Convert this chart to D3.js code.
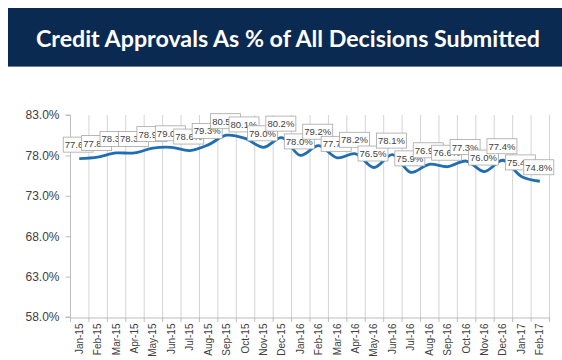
<!DOCTYPE html>
<html>
<head>
<meta charset="utf-8">
<script src="https://cdn.jsdelivr.net/npm/d3@7"></script>
<style>
  html, body { margin: 0; padding: 0; background: #ffffff; }
  svg { display: block; }
</style>
</head>
<body>
<div id="chart"></div>
<script>
const title = "Credit Approvals As % of All Decisions Submitted";
const categories = ["Jan-15","Feb-15","Mar-15","Apr-15","May-15","Jun-15","Jul-15","Aug-15","Sep-15","Oct-15","Nov-15","Dec-15",
  "Jan-16","Feb-16","Mar-16","Apr-16","May-16","Jun-16","Jul-16","Aug-16","Sep-16","Oct-16","Nov-16","Dec-16","Jan-17","Feb-17"];
const values = [77.6,77.8,78.3,78.3,78.9,79.0,78.6,79.3,80.5,80.1,79.0,80.2,
  78.0,79.2,77.7,78.2,76.5,78.1,75.9,76.9,76.6,77.3,76.0,77.4,75.4,74.8];
const yTicks = [58,63,68,73,78,83];

(function () {
const W = 562, H = 360;
const svg = d3.select("#chart").append("svg").attr("width", W).attr("height", H);

// Title banner
svg.append("rect").attr("x", 8).attr("y", 8).attr("width", W - 8).attr("height", 58).attr("fill", "#0b2a52");
svg.append("line").attr("x1", 8).attr("x2", W).attr("y1", 66.5).attr("y2", 66.5).attr("stroke", "#6f8097").attr("stroke-width", 1);
svg.append("text").attr("x", 288).attr("y", 47).attr("text-anchor", "middle")
  .attr("font-family", "Lato, 'Open Sans', sans-serif").attr("font-weight", "bold").attr("font-size", 22)
  .attr("fill", "#ffffff").attr("textLength", 504).attr("lengthAdjust", "spacingAndGlyphs").text(title);

const mLeft = 70, mRight = 549, mTop = 115, mBottom = 317;
const x = d3.scaleBand().domain(categories).range([mLeft, mRight]).paddingInner(0).paddingOuter(0);
const y = d3.scaleLinear().domain([58, 83]).range([mBottom, mTop]);

// vertical gridlines at category boundaries
const bounds = categories.map(c => x(c)).concat([mRight]);
svg.append("g").selectAll("line").data(bounds.slice(1)).join("line")
  .attr("x1", d => d + 0.5).attr("x2", d => d + 0.5).attr("y1", mTop).attr("y2", mBottom)
  .attr("stroke", "#d4d4d4").attr("stroke-width", 1);

// Y axis
const yAxis = d3.axisLeft(y).tickValues(yTicks).tickSize(5).tickPadding(6).tickFormat(d => d.toFixed(1) + "%");
const gy = svg.append("g").attr("transform", `translate(${mLeft + 0.5},0)`).call(yAxis);
gy.select(".domain").attr("stroke", "#bdbdbd").attr("d", `M-5,${mTop}H0V${mBottom}H-5`);
gy.selectAll(".tick line").attr("stroke", "#bdbdbd");
gy.selectAll(".tick text").attr("font-family", "Liberation Sans, Arial, sans-serif").attr("font-size", 12).attr("fill", "#404040");

// X axis
const xAxis = d3.axisBottom(x).tickSize(0).tickPadding(0);
const gx = svg.append("g").attr("transform", `translate(0,${mBottom + 0.5})`).call(xAxis);
gx.select(".domain").attr("stroke", "#bdbdbd");
gx.selectAll(".tick text")
  .attr("font-family", "Liberation Sans, Arial, sans-serif").attr("font-size", 10).attr("fill", "#404040")
  .attr("text-anchor", "end").attr("dy", "0.35em")
  .attr("transform", "translate(0,6) rotate(-90)")
  .attr("x", 0).attr("y", 0);
// boundary tick marks
svg.append("g").selectAll("line").data(bounds).join("line")
  .attr("x1", d => d + 0.5).attr("x2", d => d + 0.5).attr("y1", mBottom).attr("y2", mBottom + 5)
  .attr("stroke", "#bdbdbd");

// line
const cx = c => x(c) + x.bandwidth() / 2;
const pts = categories.map((c, i) => [cx(c), y(values[i])]);
svg.append("path").datum(pts)
  .attr("d", d3.line().curve(d3.curveCatmullRom.alpha(0.5)))
  .attr("fill", "none").attr("stroke", "#1f6db2").attr("stroke-width", 2.8);

// data labels
const lbl = svg.append("g");
categories.forEach((c, i) => {
  const px = cx(c), py = y(values[i]);
  const g = lbl.append("g").attr("transform", `translate(${px - 1},${py - 14})`);
  const bw = 30, bh = 15;
  g.append("rect").attr("x", -bw / 2).attr("y", -bh / 2).attr("width", bw).attr("height", bh)
    .attr("fill", "#ffffff").attr("stroke", "#a6a6a6").attr("stroke-width", 0.8);
  g.append("text").attr("x", 0).attr("y", 3.5).attr("text-anchor", "middle")
    .attr("font-family", "Liberation Sans, Arial, sans-serif").attr("font-size", 9.5).attr("fill", "#404040")
    .text(values[i].toFixed(1) + "%");
});
})();
</script>
</body>
</html>
